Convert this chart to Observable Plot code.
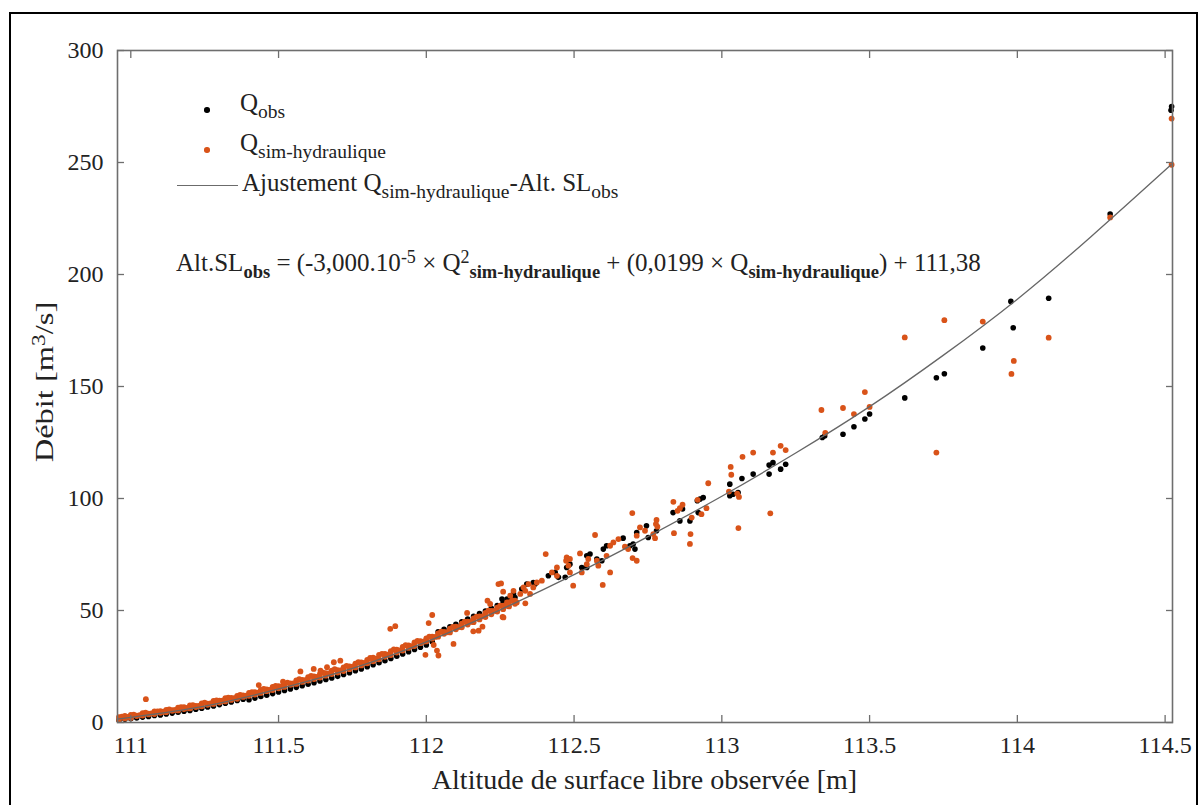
<!DOCTYPE html>
<html><head><meta charset="utf-8">
<script src="https://cdn.jsdelivr.net/npm/d3@7"></script>
<script src="https://cdn.jsdelivr.net/npm/@observablehq/plot@0.6"></script>
<style>
body{margin:0;background:#fff;}
#wrap{position:relative;width:1200px;height:805px;overflow:hidden;font-family:"Liberation Serif","Times New Roman",serif;color:#222;}
#border{position:absolute;left:9px;top:12px;width:1189px;height:900px;border:2.5px solid #000;box-sizing:border-box;}
.t{position:absolute;white-space:nowrap;line-height:1;}
.t sub{font-size:0.78em;vertical-align:-0.38em;line-height:0;}
.t sup{font-size:0.72em;vertical-align:0.45em;line-height:0;}
.eq sub{font-size:0.74em;}
.eq b{font-weight:bold;}
#plot{position:absolute;left:0;top:0;}
.dot{position:absolute;width:5.5px;height:5.5px;border-radius:50%;}
.lg{position:absolute;height:0;border-top:1.3px solid #6b6b6b;}
</style>
</head><body>
<div id="wrap">
  <div id="plot"></div>
  <div id="border"></div>
  <div class="dot" style="left:204px;top:107px;background:#000"></div>
  <div class="t" style="left:240px;top:90px;font-size:25px">Q<sub>obs</sub></div>
  <div class="dot" style="left:204px;top:147px;background:#D95319"></div>
  <div class="t" style="left:240px;top:130px;font-size:25px">Q<sub>sim-hydraulique</sub></div>
  <div class="lg" style="left:177px;top:185px;width:61px"></div>
  <div class="t" style="left:242px;top:170px;font-size:25px">Ajustement Q<sub>sim-hydraulique</sub>-Alt. SL<sub>obs</sub></div>
  <div class="t eq" style="left:176px;top:250px;font-size:25px">Alt.SL<sub><b>obs</b></sub> = (-3,000.10<sup>-5</sup> × Q<sup>2</sup><sub><b>sim-hydraulique</b></sub> + (0,0199 × Q<sub><b>sim-hydraulique</b></sub>) + 111,38</div>
  <div class="t" id="xt" style="left:0;width:1289px;text-align:center;top:766px;font-size:28px">Altitude de surface libre observée [m]</div>
  <div class="t" id="yt" style="left:45px;top:382px;font-size:26px;transform:translate(-50%,-50%) rotate(-90deg) scale(1.25,1);">Débit [m<sup>3</sup>/s]</div>
</div>
<script>
// Altitude grid of the dense low-flow band
const bandAlt = [110.96,110.98,111.00,111.02,111.04,111.06,111.08,111.10,111.12,111.14,
 111.16,111.18,111.20,111.22,111.24,111.26,111.28,111.30,111.32,111.34,
 111.36,111.38,111.40,111.42,111.44,111.46,111.48,111.50,111.52,111.54,
 111.56,111.58,111.60,111.62,111.64,111.66,111.68,111.70,111.72,111.74,
 111.76,111.78,111.80,111.82,111.84,111.86,111.88,111.90,111.92,111.94,
 111.96,111.98,112.00,112.02,112.04,112.06,112.08,112.10,112.12,112.14,
 112.16,112.18,112.20,112.22,112.24,112.26,112.28,112.30];
const bandAlt2 = [110.97,110.99,111.01,111.03,111.05,111.07,111.09,111.11,111.13,111.15,
 111.17,111.19,111.21,111.23,111.25,111.27,111.29,111.31,111.33,111.35,
 111.37,111.39,111.41,111.43,111.45,111.47,111.49,111.51,111.53,111.55,
 111.57,111.59,111.61,111.63,111.65,111.67,111.69,111.71,111.73,111.75,
 111.77,111.79,111.81,111.83,111.85,111.87,111.89,111.91,111.93,111.95,
 111.97,111.99,112.01,112.03,112.05,112.07,112.09,112.11,112.13,112.15,
 112.17,112.19,112.21,112.23,112.25,112.27,112.29];
const obsBandQ = [1.0,1.4,1.7,2.0,2.4,2.7,3.1,3.4,3.8,4.2,
 4.6,5.0,5.4,5.9,6.4,6.9,7.4,8.0,8.6,9.2,
 9.8,10.4,10.2,10.9,11.6,12.2,12.9,13.6,14.3,15.0,
 15.7,16.4,17.1,17.8,18.5,19.2,19.9,20.6,21.4,22.2,
 23.1,23.9,24.9,25.8,26.7,27.6,28.6,29.6,30.6,31.6,
 32.6,33.6,34.6,36.0,40.5,41.6,42.7,43.8,45.0,46.2,
 47.4,48.6,49.8,51.0,52.2,53.4,54.6,55.8];
const simBandQ1 = [2.4,2.9,3.4,3.1,4.2,4.0,4.9,5.1,5.6,5.5,
 6.6,6.9,7.6,7.4,8.5,8.4,9.6,9.8,10.9,11.0,
 11.9,12.1,13.2,13.5,14.6,14.8,15.9,16.2,17.3,17.5,
 18.8,19.0,20.2,20.6,21.7,22.0,23.1,23.4,24.6,25.1,
 26.3,26.8,28.0,28.9,30.2,30.6,31.9,32.5,33.8,34.4,
 35.8,36.3,37.6,38.3,39.8,40.5,41.9,42.8,44.1,45.0,
 46.5,47.4,48.9,49.8,51.3,52.0,53.6,54.4];
const simBandQ2 = [1.2,1.8,2.0,2.9,3.1,3.6,3.8,4.3,4.6,5.2,
 5.4,6.0,6.3,6.9,7.2,7.9,8.3,8.9,9.4,10.1,
 10.6,11.4,11.9,12.5,13.2,14.0,14.5,15.3,15.9,16.8,
 17.2,18.1,18.7,19.4,20.1,20.9,21.6,22.3,23.0,23.8,
 24.6,25.5,26.4,27.3,28.2,29.3,30.1,31.2,32.1,33.3,
 34.1,35.4,36.2,37.4,38.3,39.6,40.2,41.6,42.5,43.7,
 44.8,46.0,47.1,48.3,49.5,50.6,51.8,53.0];
const simBandQ3 = [2.6,2.5,3.5,3.3,4.4,4.1,5.0,4.8,5.9,5.6,
 6.9,6.5,7.7,7.4,8.9,8.5,9.9,9.7,11.1,10.9,
 12.3,12.0,13.6,13.3,15.0,14.6,16.3,16.0,17.8,17.4,
 19.3,18.9,20.8,20.4,22.3,21.9,23.8,23.3,25.3,24.9,
 26.9,26.6,28.8,28.5,30.6,30.3,32.6,32.2,34.5,34.1,
 36.4,36.1,38.3,38.2,40.6,40.3,42.7,42.6,45.0,44.9,
 47.3,47.4,49.9,49.8,52.2,52.1,54.5];

// Scattered observed points (Q_obs)
const obsAlt = [112.256,112.273,112.295,112.323,112.340,112.362,112.368,112.413,112.436,112.447,
 112.470,112.475,112.486,112.526,112.543,112.543,112.554,112.577,112.594,112.599,
 112.610,112.666,112.689,112.700,112.706,112.712,112.745,112.751,112.779,112.835,
 112.858,112.867,112.892,112.917,112.920,112.926,112.937,113.027,113.027,113.038,
 113.055,113.068,113.106,113.160,113.160,113.173,113.199,113.216,113.340,113.348,
 113.410,113.447,113.484,113.500,113.619,113.726,113.753,113.883,113.978,113.986,
 114.106,114.314,114.520,114.522];
const obsQ = [55.1,55.1,57.4,59.6,61.8,62.5,61.8,65.5,67.0,64.8,
 64.8,69.2,70.7,69.2,69.2,74.4,75.2,73.0,72.2,77.4,
 78.9,82.3,78.9,79.7,77.4,84.8,87.8,82.6,85.6,93.7,
 90.0,95.3,90.0,99.0,93.7,99.7,100.4,101.2,106.4,101.9,
 102.7,108.9,110.9,110.9,114.9,116.0,113.1,115.3,127.2,127.9,
 128.7,132.0,135.5,137.7,144.9,153.9,155.7,167.2,188.0,176.2,
 189.4,227.0,273.3,275.0];

// Scattered simulated points (Q_sim-hydraulique)
const simAlt = [111.051,111.433,111.515,111.574,111.619,111.642,111.664,111.687,111.709,111.878,
 111.895,111.997,112.008,112.020,112.025,112.036,112.041,112.092,112.138,112.159,
 112.177,112.190,112.207,112.216,112.244,112.253,112.258,112.260,112.261,112.261,
 112.273,112.284,112.295,112.306,112.318,112.329,112.335,112.335,112.346,112.351,
 112.362,112.374,112.391,112.404,112.425,112.442,112.442,112.473,112.475,112.481,
 112.486,112.486,112.497,112.520,112.526,112.543,112.548,112.571,112.577,112.582,
 112.597,112.610,112.622,112.622,112.633,112.650,112.672,112.683,112.697,112.698,
 112.712,112.712,112.723,112.740,112.768,112.774,112.777,112.779,112.782,112.836,
 112.838,112.850,112.858,112.867,112.892,112.894,112.898,112.918,112.931,112.948,
 112.954,113.024,113.030,113.032,113.052,113.056,113.058,113.070,113.106,113.164,
 113.173,113.199,113.216,113.337,113.350,113.410,113.447,113.484,113.500,113.619,
 113.726,113.753,113.883,113.980,113.988,114.106,114.314,114.522,114.522];
const simQ = [10.4,16.7,18.2,22.8,23.9,23.2,24.7,26.9,27.6,41.8,
 43.0,30.2,44.4,48.0,34.6,32.1,29.9,35.1,48.9,40.7,
 41.0,42.8,54.4,52.9,61.8,62.1,47.1,58.4,52.2,46.9,
 53.6,56.6,58.8,53.6,57.4,60.3,58.8,53.2,61.8,57.4,
 60.3,62.5,63.3,75.2,67.0,69.2,65.5,72.2,73.7,70.0,
 73.0,67.0,61.1,75.5,67.0,70.7,73.0,83.7,72.2,70.0,
 61.4,74.4,78.9,67.0,80.4,81.9,78.5,77.4,93.5,73.4,
 83.4,72.2,87.1,85.6,84.1,82.3,88.6,90.4,87.4,98.5,
 84.5,94.5,95.7,97.2,79.7,84.1,91.5,99.4,93.0,95.7,
 106.8,103.1,114.1,110.6,102.2,86.8,100.7,118.6,120.5,93.4,
 120.5,123.5,121.6,139.5,129.3,140.4,137.7,147.5,140.9,171.9,
 120.5,179.6,179.0,155.6,161.4,171.8,225.5,269.6,249.0];

// Fitted curve Q_sim-hydraulique vs Alt. SL_obs
const fitAlt = [110.955,111.0,111.25,111.5,111.75,112.0,112.25,112.5,112.75,113.0,113.25,113.5,113.75,114.0,114.25,114.52];
const fitQ   = [1.5,2.3,7.3,15.0,24.2,36.0,50.3,66.0,83.0,101.0,120.3,141.0,164.0,189.0,217.0,249.0];

const xTicks = [111,111.5,112,112.5,113,113.5,114,114.5];
const yTicks = [0,50,100,150,200,250,300];

const obs = bandAlt.map((a,i)=>({alt:a,q:obsBandQ[i]}))
  .concat(obsAlt.map((a,i)=>({alt:a,q:obsQ[i]})));
const sim = bandAlt.map((a,i)=>({alt:a,q:simBandQ1[i]}))
  .concat(bandAlt.map((a,i)=>({alt:a,q:simBandQ2[i]})))
  .concat(bandAlt2.map((a,i)=>({alt:a,q:simBandQ3[i]})))
  .concat(simAlt.map((a,i)=>({alt:a,q:simQ[i]})));
const fit = fitAlt.map((a,i)=>({alt:a,q:fitQ[i]}));

const axisColor = "#6e6e6e";
const chart = Plot.plot({
  width:1200, height:805,
  marginLeft:117, marginRight:28, marginTop:50, marginBottom:83,
  x:{domain:[110.955,114.525]},
  y:{domain:[0,300]},
  style:{fontFamily:"'Liberation Serif','Times New Roman',serif", fontSize:"24px", color:"#222", background:"transparent"},
  marks:[
    Plot.dot(obs,{x:"alt",y:"q",r:2.8,fill:"#000",stroke:"none"}),
    Plot.dot(sim,{x:"alt",y:"q",r:2.9,fill:"#D95319",stroke:"none"}),
    Plot.line(fit,{x:"alt",y:"q",stroke:"#666",strokeWidth:1.3,curve:"natural"}),
    Plot.frame({stroke:axisColor,strokeWidth:1.6}),
    Plot.axisX(xTicks,{anchor:"bottom",tickSize:0,tickPadding:13,tickFormat:d=>String(d),label:null,fill:"#222",fontSize:24}),
    Plot.axisX(xTicks,{anchor:"bottom",tickSize:-7,tickFormat:()=>"",label:null,stroke:axisColor,strokeWidth:1.3}),
    Plot.axisX(xTicks,{anchor:"top",tickSize:-7,tickFormat:()=>"",label:null,stroke:axisColor,strokeWidth:1.3}),
    Plot.axisY(yTicks,{anchor:"left",tickSize:0,tickPadding:14,label:null,fill:"#222",fontSize:24}),
    Plot.axisY(yTicks,{anchor:"left",tickSize:-7,tickFormat:()=>"",label:null,stroke:axisColor,strokeWidth:1.3}),
    Plot.axisY(yTicks,{anchor:"right",tickSize:-7,tickFormat:()=>"",label:null,stroke:axisColor,strokeWidth:1.3})
  ]
});
document.getElementById("plot").appendChild(chart);
</script>
</body></html>
